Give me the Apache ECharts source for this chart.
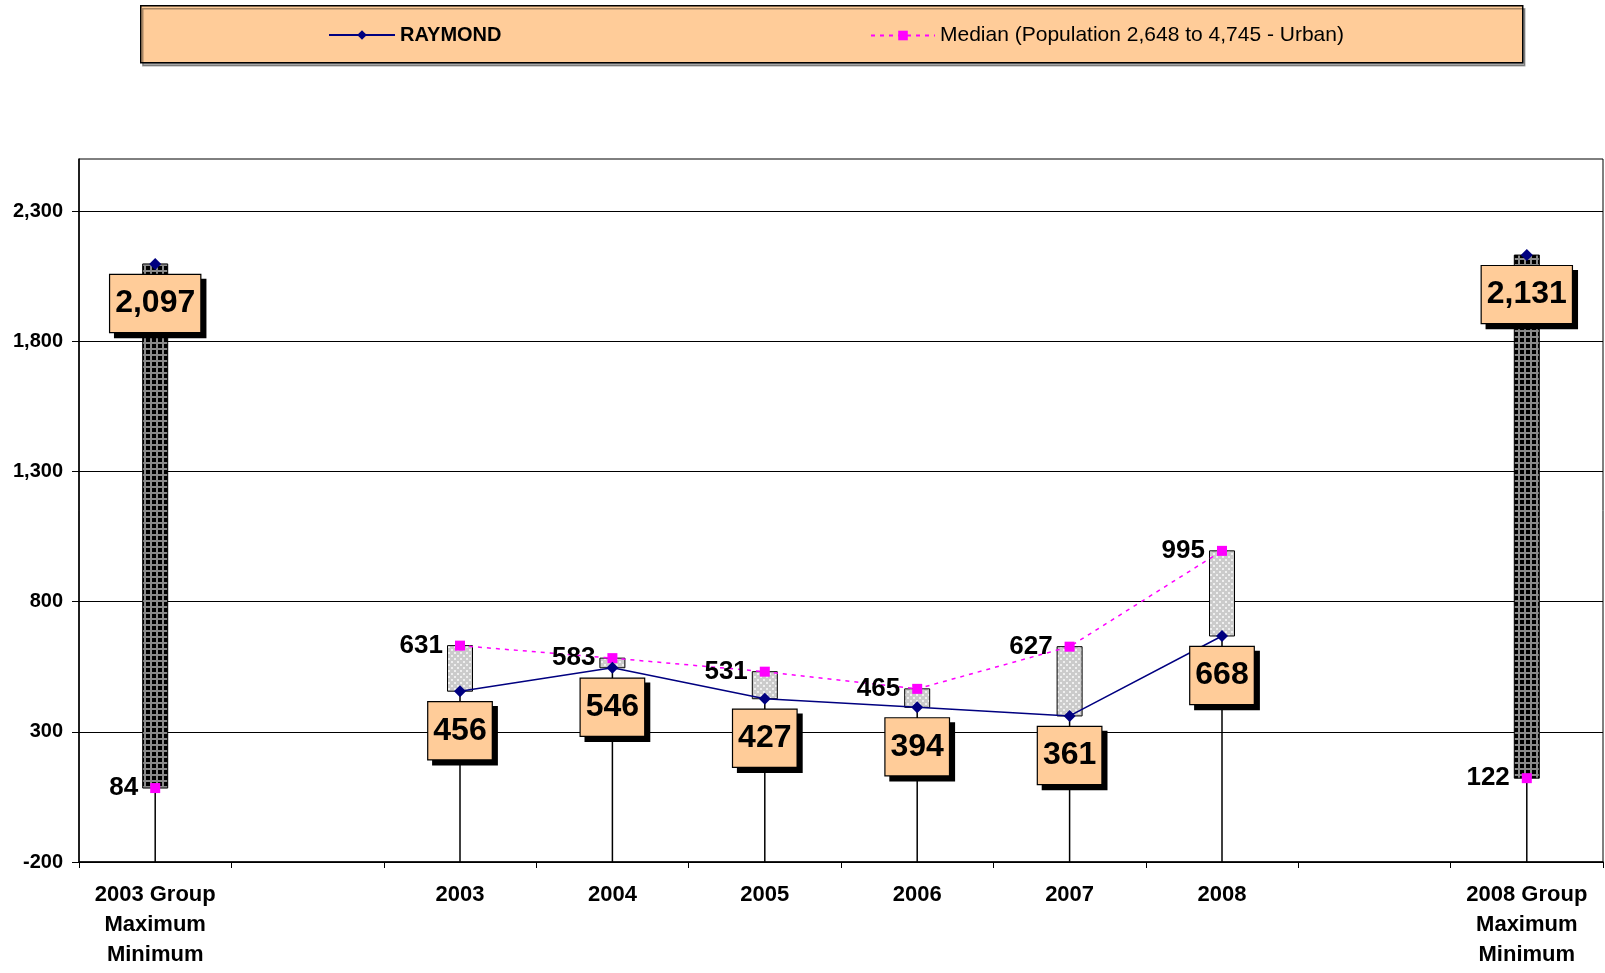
<!DOCTYPE html>
<html>
<head>
<meta charset="utf-8">
<script src="https://cdn.jsdelivr.net/npm/echarts@6/dist/echarts.min.js"></script>
<style>
  html, body { margin: 0; padding: 0; background: #fff; }
  #chart { width: 1605px; height: 973px; }
</style>
</head>
<body>
<div id="chart"></div>
<script>
// categories on the x axis (empty ones are spacers)
var categories = ['2003 Group\nMaximum\nMinimum', '', '2003', '2004', '2005', '2006', '2007', '2008', '', '2008 Group\nMaximum\nMinimum'];
// RAYMOND values (group columns hold the group maximum)
var raymond = [2097, null, 456, 546, 427, 394, 361, 668, null, 2131];
// median values (group columns hold the group minimum)
var median = [84, null, 631, 583, 531, 465, 627, 995, null, 122];
// which columns are group max/min columns
var isGroup = [1, 0, 0, 0, 0, 0, 0, 0, 0, 1];
var yTicks = [-200, 300, 800, 1300, 1800, 2300];
var yMin = -200, yMax = 2500;

var medianName = 'Median (Population 2,648 to 4,745 - Urban)';

function fmt(v) {
  return Number(v).toLocaleString('en-US');
}

// fill patterns
function lightPattern() {
  var c = document.createElement('canvas');
  c.width = 6; c.height = 6;
  var g = c.getContext('2d');
  g.fillStyle = '#cbcbcb';
  g.fillRect(0, 0, 6, 6);
  g.fillStyle = '#efefef';
  g.fillRect(1, 1, 2, 2);
  g.fillRect(4, 4, 2, 2);
  return c;
}
function darkPattern() {
  var c = document.createElement('canvas');
  c.width = 6; c.height = 6;
  var g = c.getContext('2d');
  g.fillStyle = '#000';
  g.fillRect(0, 0, 6, 6);
  g.fillStyle = '#8a8a8a';
  g.fillRect(0, 0, 2, 6);
  g.fillRect(0, 0, 6, 2);
  return c;
}
var lightPat = { image: lightPattern(), repeat: 'repeat' };
var darkPat = { image: darkPattern(), repeat: 'repeat' };

// range boxes between the two series + drop lines
var ranges = [];
for (var i = 0; i < categories.length; i++) {
  if (raymond[i] == null) continue;
  ranges.push([i, Math.min(raymond[i], median[i]), Math.max(raymond[i], median[i]), isGroup[i]]);
}

var chart = echarts.init(document.getElementById('chart'));

var option = {
  animation: false,
  textStyle: { fontFamily: 'Liberation Sans, Arial, sans-serif' },
  graphic: [{
    type: 'rect',
    left: 140, top: 5, z: 0,
    shape: { width: 1382, height: 57 },
    style: {
      fill: '#FFCC99', stroke: '#000', lineWidth: 1.5,
      shadowColor: 'rgba(0,0,0,0.35)', shadowOffsetX: 2, shadowOffsetY: 3
    }
  }],
  legend: [
    {
      data: ['RAYMOND'],
      left: 328, top: 25, padding: 0,
      itemWidth: 66, itemHeight: 12, itemGap: 0,
      textStyle: { fontSize: 20, fontWeight: 'bold', color: '#000', fontFamily: 'Liberation Sans, Arial, sans-serif' }
    },
    {
      data: [medianName],
      left: 870, top: 25, padding: 0,
      itemWidth: 64, itemHeight: 12, itemGap: 0,
      textStyle: { fontSize: 21, color: '#000', fontFamily: 'Liberation Sans, Arial, sans-serif' }
    }
  ],
  grid: {
    left: 79, right: 2, top: 159, bottom: 111,
    show: true, borderColor: '#000', borderWidth: 1,
    outerBoundsMode: 'none'
  },
  xAxis: {
    type: 'category',
    data: categories,
    boundaryGap: true,
    axisLine: { onZero: false, lineStyle: { color: '#000', width: 1.5 } },
    axisTick: { show: true, interval: 0, length: 6, lineStyle: { color: '#000', width: 1 } },
    axisLabel: {
      interval: 0, margin: 18, lineHeight: 30,
      fontSize: 22, fontWeight: 'bold', color: '#000'
    },
    splitLine: { show: false }
  },
  yAxis: {
    type: 'value',
    min: yMin, max: yMax, interval: 500,
    axisLine: { show: true, lineStyle: { color: '#000', width: 1.5 } },
    axisTick: { show: true, length: 7, lineStyle: { color: '#000' }, customValues: yTicks },
    axisLabel: {
      margin: 16, customValues: yTicks,
      fontSize: 20, fontWeight: 'bold', color: '#000',
      formatter: function (v) { return fmt(v); }
    },
    splitLine: { show: true, lineStyle: { color: '#000', width: 1.2 } }
  },
  series: [
    {
      name: 'ranges',
      type: 'custom',
      data: ranges,
      encode: { x: 0, y: [1, 2] },
      z: 1,
      renderItem: function (params, api) {
        var x = api.value(0);
        var lo = api.value(1), hi = api.value(2), grp = api.value(3);
        var b = api.coord([x, yMin]);
        var pl = api.coord([x, lo]);
        var ph = api.coord([x, hi]);
        var w = 25;
        return {
          type: 'group',
          children: [
            { type: 'line', shape: { x1: b[0], y1: b[1], x2: pl[0], y2: pl[1] },
              style: { stroke: '#000', lineWidth: 1.5 } },
            { type: 'rect', shape: { x: ph[0] - w / 2, y: ph[1], width: w, height: pl[1] - ph[1] },
              style: { fill: grp ? darkPat : lightPat, stroke: '#000', lineWidth: 1 } }
          ]
        };
      }
    },
    {
      name: medianName,
      type: 'line',
      z: 3,
      data: median.map(function (v) { return v == null ? '-' : v; }),
      connectNulls: false,
      symbol: 'rect', symbolSize: 10,
      itemStyle: { color: '#FF00FF' },
      lineStyle: { color: '#FF00FF', width: 1.5, type: [4, 5] },
      label: {
        show: true, position: 'left', distance: 12,
        fontSize: 26, fontWeight: 'bold', color: '#000',
        formatter: function (p) { return fmt(p.value); }
      }
    },
    {
      name: 'RAYMOND',
      type: 'line',
      z: 4,
      data: raymond.map(function (v) { return v == null ? '-' : v; }),
      connectNulls: false,
      symbol: 'diamond', symbolSize: 12,
      itemStyle: { color: '#000080' },
      lineStyle: { color: '#000080', width: 1.5 },
      label: {
        show: true, position: 'bottom', distance: 5,
        fontSize: 32, fontWeight: 'bold', color: '#000', lineHeight: 35,
        backgroundColor: '#FFCC99', borderColor: '#000', borderWidth: 1.2,
        padding: [11, 5, 11, 5],
        shadowColor: '#000', shadowOffsetX: 5, shadowOffsetY: 5, shadowBlur: 0,
        formatter: function (p) { return fmt(p.value); }
      }
    }
  ]
};
chart.setOption(option);
</script>
</body>
</html>
